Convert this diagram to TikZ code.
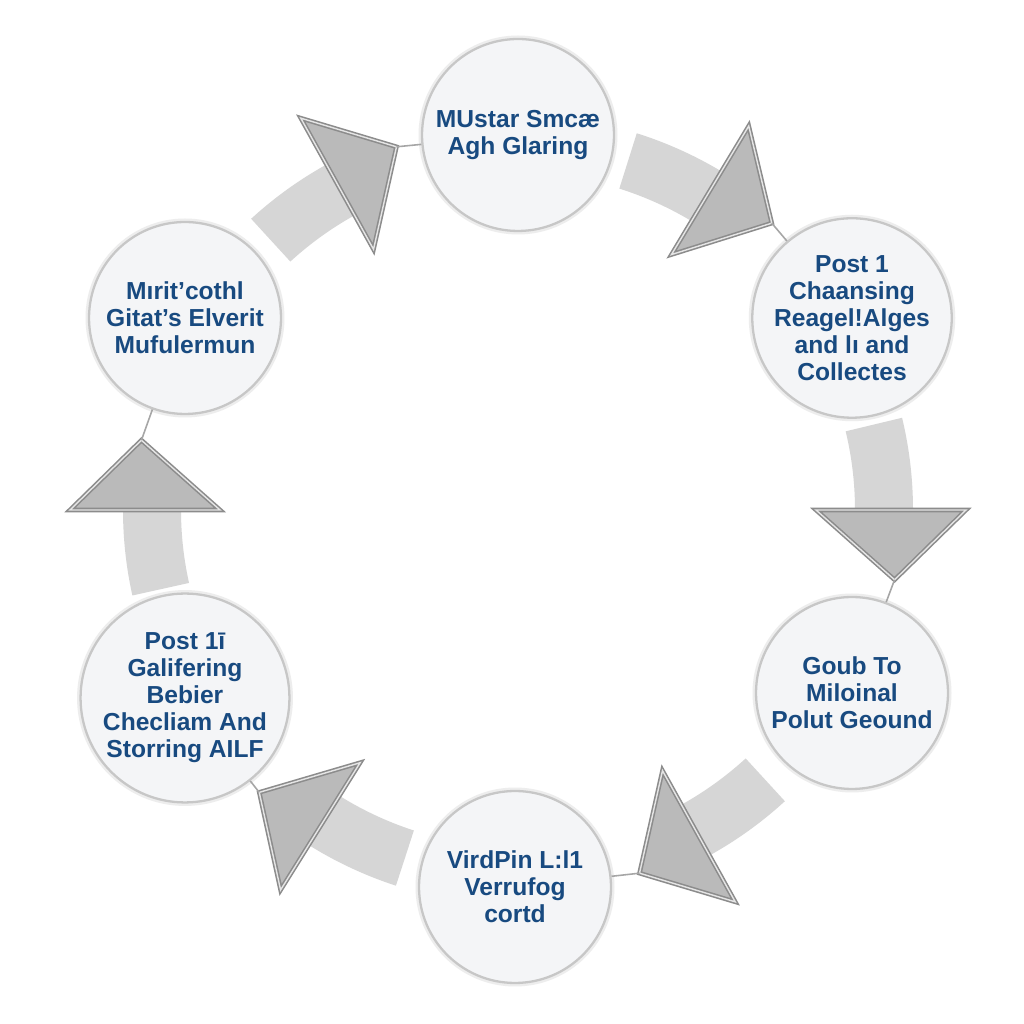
\documentclass[tikz,border=0pt]{standalone}
\usepackage{fontspec}
\setmainfont{Liberation Sans}
\usepackage{tikz}
\usetikzlibrary{calc}
\definecolor{txtblue}{RGB}{24,74,128}
\definecolor{bandgray}{RGB}{214,214,214}
\definecolor{headgray}{RGB}{186,186,186}
\definecolor{edgegray}{RGB}{140,140,140}
\definecolor{discfill}{RGB}{244,245,247}

\begin{document}
\begin{tikzpicture}[x=0.02cm, y=0.02cm,
    stage/.style={circle, draw=black!22, line width=1.3pt, fill=discfill, minimum size=3.84cm, inner sep=0pt, align=center, text=txtblue, font=\bfseries\fontsize{14}{15.4}\selectfont, preaction={draw=black!7, line width=4pt}},
    band/.style={fill=bandgray},
    head/.style={fill=headgray, draw=edgegray, line width=0.9pt, double=white!80!gray, double distance=0.8pt},
    link/.style={draw=black!35, line width=0.9pt}]
    \path[use as bounding box, fill=white] (0,0) rectangle (1024,1024);
    \coordinate (C) at (518,514);

    % Kreise
    \node[stage] (P1) at (518,889) {MUstar Smcæ\\Agh Glaring};
    \node[stage] (P2) at (852,706) {Post 1\\Chaansing\\Reagel!Alges\\and lı and\\Collectes};
    \node[stage] (P3) at (852,331) {Goub To\\Miloinal\\Polut Geound};
    \node[stage] (P4) at (515,137) {VirdPin L:l1\\Verrufog\\cortd};
    \node[stage] (P5) at (185,326) {Post 1ī\\Galifering\\Bebier\\Checliam And\\Storring AILF};
    \node[stage] (P6) at (185,706) {Mırit'cothl\\Gitat's Elverit\\Mufulermun};

    % Pfeil P6 -> P1
    \fill[band] ($(C)+(132.5:337)$) arc[start angle=132.5, end angle=118, radius=337] -- ($(C)+(118:395)$) arc[start angle=118, end angle=132.5, radius=395] -- cycle;
    \coordinate (tA) at ($(C)+(108.5:383)$);
    \draw[head] ($(C)+(119:298)$) -- ($(C)+(119:448)$) -- (tA) -- cycle;
    \draw[link] (tA) -- (P1);

    % Pfeil P1 -> P2
    \fill[band] ($(C)+(72.5:337)$) arc[start angle=72.5, end angle=58, radius=337] -- ($(C)+(58:395)$) arc[start angle=58, end angle=72.5, radius=395] -- cycle;
    \coordinate (tB) at ($(C)+(48.5:383)$);
    \draw[head] ($(C)+(59:298)$) -- ($(C)+(59:448)$) -- (tB) -- cycle;
    \draw[link] (tB) -- (P2);

    % Pfeil P2 -> P3
    \fill[band] ($(C)+(13.5:337)$) arc[start angle=13.5, end angle=-1, radius=337] -- ($(C)+(-1:395)$) arc[start angle=-1, end angle=13.5, radius=395] -- cycle;
    \coordinate (tC) at ($(C)+(-10.5:383)$);
    \draw[head] ($(C)+(0:298)$) -- ($(C)+(0:448)$) -- (tC) -- cycle;
    \draw[link] (tC) -- (P3);

    % Pfeil P3 -> P4
    \fill[band] ($(C)+(-47.5:337)$) arc[start angle=-47.5, end angle=-62, radius=337] -- ($(C)+(-62:395)$) arc[start angle=-62, end angle=-47.5, radius=395] -- cycle;
    \coordinate (tD) at ($(C)+(-71.5:383)$);
    \draw[head] ($(C)+(-61:298)$) -- ($(C)+(-61:448)$) -- (tD) -- cycle;
    \draw[link] (tD) -- (P4);

    % Pfeil P4 -> P5
    \fill[band] ($(C)+(-108:337)$) arc[start angle=-108, end angle=-123, radius=337] -- ($(C)+(-123:395)$) arc[start angle=-123, end angle=-108, radius=395] -- cycle;
    \coordinate (tE) at ($(C)+(-132.5:383)$);
    \draw[head] ($(C)+(-122:298)$) -- ($(C)+(-122:448)$) -- (tE) -- cycle;
    \draw[link] (tE) -- (P5);

    % Pfeil P5 -> P6
    \fill[band] ($(C)+(192.5:337)$) arc[start angle=192.5, end angle=179, radius=337] -- ($(C)+(179:395)$) arc[start angle=179, end angle=192.5, radius=395] -- cycle;
    \coordinate (tF) at ($(C)+(169.5:383)$);
    \draw[head] ($(C)+(180:298)$) -- ($(C)+(180:448)$) -- (tF) -- cycle;
    \draw[link] (tF) -- (P6);
\end{tikzpicture}
\end{document}
